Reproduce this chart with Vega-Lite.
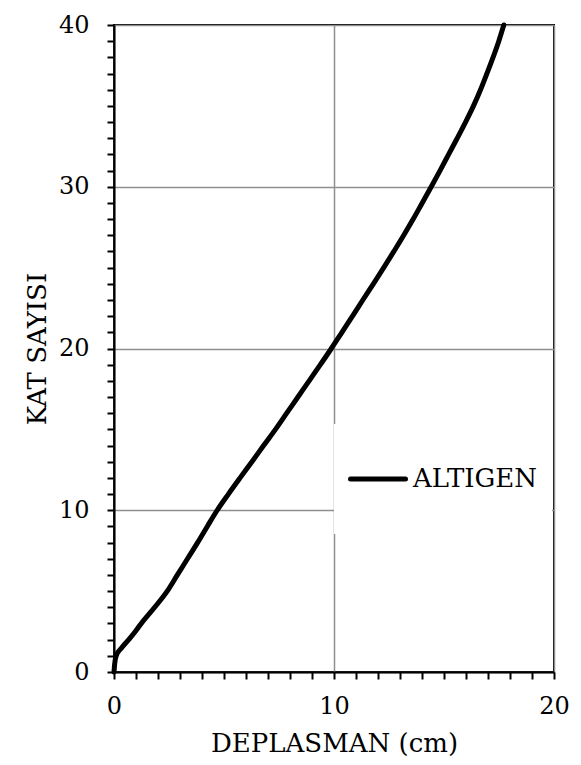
{
  "$schema": "https://vega.github.io/schema/vega-lite/v6.json",
  "width": 440,
  "height": 647,
  "autosize": {"type": "none"},
  "padding": {"left": 114, "top": 25, "right": 27, "bottom": 93},
  "background": "white",
  "config": {
    "view": {"stroke": "black", "strokeWidth": 2},
    "font": "DejaVu Serif",
    "axis": {
      "labelFont": "DejaVu Serif",
      "titleFont": "DejaVu Serif",
      "labelFontSize": 24,
      "titleFontSize": 26,
      "titleFontWeight": "normal",
      "labelColor": "black",
      "titleColor": "black",
      "domainColor": "black",
      "domainWidth": 2,
      "labelOverlap": false,
      "labelFlush": false,
      "gridColor": "#8f8f8f",
      "gridWidth": 1.5
    }
  },
  "data": {
    "values": [
      {"kat": 0, "d": 0},
      {"kat": 0.5, "d": 0.03},
      {"kat": 1, "d": 0.1},
      {"kat": 1.5, "d": 0.35},
      {"kat": 2, "d": 0.67},
      {"kat": 2.5, "d": 0.97},
      {"kat": 3, "d": 1.24},
      {"kat": 4, "d": 1.85},
      {"kat": 5, "d": 2.42},
      {"kat": 6, "d": 2.88},
      {"kat": 7, "d": 3.34},
      {"kat": 8, "d": 3.8},
      {"kat": 9, "d": 4.24},
      {"kat": 10, "d": 4.69},
      {"kat": 11, "d": 5.2},
      {"kat": 12, "d": 5.73},
      {"kat": 13, "d": 6.27},
      {"kat": 14, "d": 6.8},
      {"kat": 15, "d": 7.34},
      {"kat": 16, "d": 7.85},
      {"kat": 17, "d": 8.36},
      {"kat": 18, "d": 8.87},
      {"kat": 19, "d": 9.38},
      {"kat": 20, "d": 9.88},
      {"kat": 21, "d": 10.36},
      {"kat": 22, "d": 10.84},
      {"kat": 23, "d": 11.31},
      {"kat": 24, "d": 11.79},
      {"kat": 25, "d": 12.26},
      {"kat": 26, "d": 12.72},
      {"kat": 27, "d": 13.17},
      {"kat": 28, "d": 13.6},
      {"kat": 29, "d": 14.01},
      {"kat": 30, "d": 14.42},
      {"kat": 31, "d": 14.82},
      {"kat": 32, "d": 15.21},
      {"kat": 33, "d": 15.6},
      {"kat": 34, "d": 15.98},
      {"kat": 35, "d": 16.34},
      {"kat": 36, "d": 16.66},
      {"kat": 37, "d": 16.95},
      {"kat": 38, "d": 17.23},
      {"kat": 39, "d": 17.49},
      {"kat": 40, "d": 17.72}
    ]
  },
  "mark": {"type": "line", "strokeWidth": 5, "strokeCap": "round", "strokeJoin": "round", "interpolate": "monotone"},
  "encoding": {
    "x": {
      "field": "d",
      "type": "quantitative",
      "scale": {"domain": [0, 20], "nice": false, "zero": true},
      "axis": {
        "title": "DEPLASMAN (cm)",
        "ticks": true,
        "tickSize": 7,
        "tickWidth": 2,
        "tickColor": "black",
        "tickOpacity": 1,
        "tickCap": "butt",
        "tickDash": [],
        "tickOffset": 0,
        "values": [0,1,2,3,4,5,6,7,8,9,10,11,12,13,14,15,16,17,18,19,20],
        "labelExpr": "datum.value % 10 === 0 ? datum.label : ''",
        "labelPadding": 15,
        "titlePadding": 12,
        "gridOpacity": {"condition": {"test": "datum.value % 10 === 0", "value": 1}, "value": 0}
      }
    },
    "y": {
      "field": "kat",
      "type": "quantitative",
      "sort": null,
      "scale": {"domain": [0, 40], "nice": false},
      "axis": {
        "title": "KAT SAYISI",
        "ticks": true,
        "tickSize": 7,
        "tickWidth": 2,
        "tickColor": "black",
        "tickOpacity": 1,
        "tickCap": "butt",
        "tickDash": [],
        "tickOffset": 0,
        "values": [0,1,2,3,4,5,6,7,8,9,10,11,12,13,14,15,16,17,18,19,20,21,22,23,24,25,26,27,28,29,30,31,32,33,34,35,36,37,38,39,40],
        "labelExpr": "datum.value % 10 === 0 ? datum.label : ''",
        "labelPadding": 18,
        "titlePadding": 8,
        "gridOpacity": {"condition": {"test": "datum.value % 10 === 0", "value": 1}, "value": 0}
      }
    },
    "order": {"field": "kat", "type": "quantitative"},
    "color": {
      "datum": "ALTIGEN",
      "type": "nominal",
      "scale": {"range": ["black"]},
      "legend": {
        "title": null,
        "orient": "none",
        "legendX": 220,
        "legendY": 399,
        "fillColor": "white",
        "padding": 14,
        "symbolType": "stroke",
        "symbolSize": 3025,
        "symbolStrokeWidth": 5,
        "symbolStrokeColor": "black",
        "labelFont": "DejaVu Serif",
        "labelFontSize": 26,
        "labelColor": "black",
        "labelOffset": 5,
        "labelLimit": 300,
        "clipHeight": 82,
        "encode": {"symbols": {"update": {"strokeCap": {"value": "round"}}}}
      }
    }
  }
}
